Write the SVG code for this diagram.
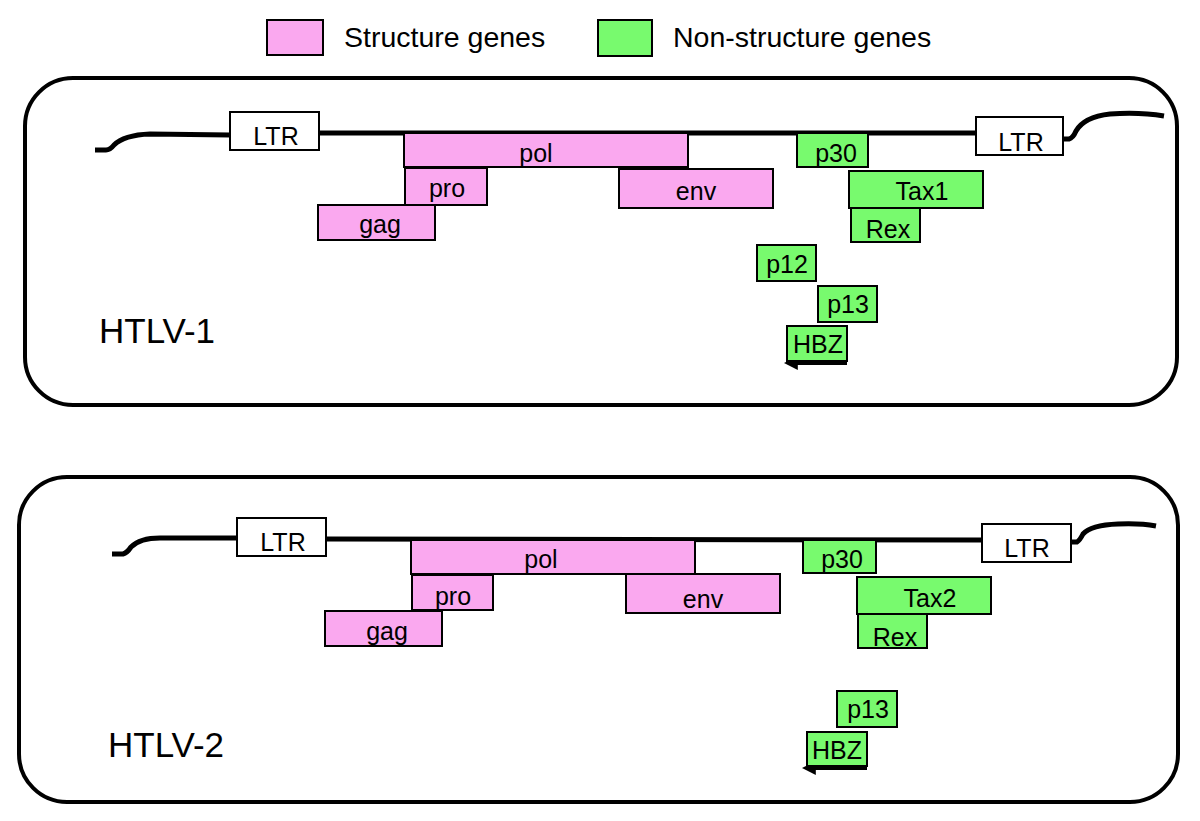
<svg xmlns="http://www.w3.org/2000/svg" width="1200" height="821" viewBox="0 0 1200 821">
<defs>
<style>
.frame{fill:none;stroke:#000;stroke-width:4}
.genome{fill:none;stroke:#000;stroke-width:5;stroke-linecap:butt}
.ltr{fill:#fff;stroke:#000;stroke-width:2}
.s{fill:#FAA8EF;stroke:#000;stroke-width:2}
.n{fill:#78FA6E;stroke:#000;stroke-width:2}
text{font-family:"Liberation Sans",Arial,sans-serif;fill:#000}
.g{font-size:25px;text-anchor:middle}
.lbl{font-size:35px}
.leg{font-size:28.5px}
.arr{fill:none;stroke:#000;stroke-width:4}
</style>
<marker id="ah" viewBox="0 0 10 10" refX="2" refY="5" markerWidth="3.5" markerHeight="3.5" orient="auto-start-reverse" markerUnits="strokeWidth">
<path d="M0,0 L10,5 L0,10 Z" fill="#000"/>
</marker>
</defs>
<rect width="1200" height="821" fill="#fff"/>

<g id="legend">
<rect class="s" x="267" y="20" width="56" height="35"/>
<text class="leg" x="344" y="47">Structure genes</text>
<rect class="n" x="598" y="20" width="54" height="36"/>
<text class="leg" x="673" y="47">Non-structure genes</text>
</g>

<g id="htlv1">
<rect class="frame" x="25" y="78" width="1152" height="327" rx="48" ry="48"/>
<text class="lbl" x="99" y="343">HTLV-1</text>
</g>
<g id="htlv2">
<rect class="frame" x="19" y="477" width="1159" height="325" rx="48" ry="48"/>
<text class="lbl" x="108" y="757">HTLV-2</text>
</g>

<g id="connectors">
<path class="genome" d="M95,150 L106,150 Q110,150 114,145 Q124,135 150,134 L230,135"/>
<path class="genome" d="M319,133 L976,133"/>
<path class="genome" d="M1063,139 L1069,139 Q1073,138 1076,131 Q1084,117 1110,114 Q1140,112 1164,116"/>
<path class="genome" d="M112,554 L123,554 Q127,553 131,547 Q140,538 160,538 L237,538"/>
<path class="genome" d="M326,539 L982,540"/>
<path class="genome" d="M1071,542 L1077,542 Q1080,540 1083,534 Q1091,525 1118,524 Q1140,523 1156,526"/>
<path class="arr" d="M847,363 L795,363" marker-end="url(#ah)"/>
<path class="arr" d="M867,768 L813,768" marker-end="url(#ah)"/>
</g>

<g id="ltr1a"><rect class="ltr" x="230" y="112" width="89" height="38"/><text class="g" x="276" y="145">LTR</text></g>
<g id="ltr1b"><rect class="ltr" x="976" y="117" width="87" height="38"/><text class="g" x="1021" y="151">LTR</text></g>
<g id="pol1"><rect class="s" x="404" y="133" width="284" height="34"/><text class="g" x="536" y="162">pol</text></g>
<g id="pro1"><rect class="s" x="405" y="168" width="82" height="37"/><text class="g" x="447" y="197">pro</text></g>
<g id="gag1"><rect class="s" x="318" y="205" width="117" height="35"/><text class="g" x="380" y="233">gag</text></g>
<g id="env1"><rect class="s" x="619" y="169" width="154" height="39"/><text class="g" x="696" y="200">env</text></g>
<g id="p30a"><rect class="n" x="797" y="133" width="71" height="34"/><text class="g" x="836" y="162">p30</text></g>
<g id="tax1"><rect class="n" x="849" y="171" width="134" height="37"/><text class="g" x="922" y="200">Tax1</text></g>
<g id="rex1"><rect class="n" x="851" y="208" width="69" height="34"/><text class="g" x="888" y="238">Rex</text></g>
<g id="p12"><rect class="n" x="757" y="245" width="59" height="36"/><text class="g" x="787" y="273">p12</text></g>
<g id="p13a"><rect class="n" x="818" y="286" width="59" height="36"/><text class="g" x="848" y="313">p13</text></g>
<g id="hbz1"><rect class="n" x="787" y="326" width="60" height="35"/><text class="g" x="818" y="353">HBZ</text></g>

<g id="ltr2a"><rect class="ltr" x="237" y="518" width="89" height="38"/><text class="g" x="283" y="551">LTR</text></g>
<g id="ltr2b"><rect class="ltr" x="982" y="524" width="89" height="38"/><text class="g" x="1027" y="557">LTR</text></g>
<g id="pol2"><rect class="s" x="411" y="540" width="284" height="34"/><text class="g" x="541" y="568">pol</text></g>
<g id="pro2"><rect class="s" x="412" y="575" width="81" height="35"/><text class="g" x="453" y="605">pro</text></g>
<g id="gag2"><rect class="s" x="325" y="611" width="117" height="35"/><text class="g" x="387" y="640">gag</text></g>
<g id="env2"><rect class="s" x="626" y="574" width="154" height="39"/><text class="g" x="703" y="608">env</text></g>
<g id="p30b"><rect class="n" x="803" y="540" width="73" height="33"/><text class="g" x="842" y="568">p30</text></g>
<g id="tax2"><rect class="n" x="857" y="577" width="134" height="37"/><text class="g" x="930" y="607">Tax2</text></g>
<g id="rex2"><rect class="n" x="858" y="614" width="69" height="34"/><text class="g" x="895" y="646">Rex</text></g>
<g id="p13b"><rect class="n" x="837" y="691" width="60" height="36"/><text class="g" x="868" y="718">p13</text></g>
<g id="hbz2"><rect class="n" x="807" y="732" width="60" height="34"/><text class="g" x="837" y="759">HBZ</text></g>
</svg>
